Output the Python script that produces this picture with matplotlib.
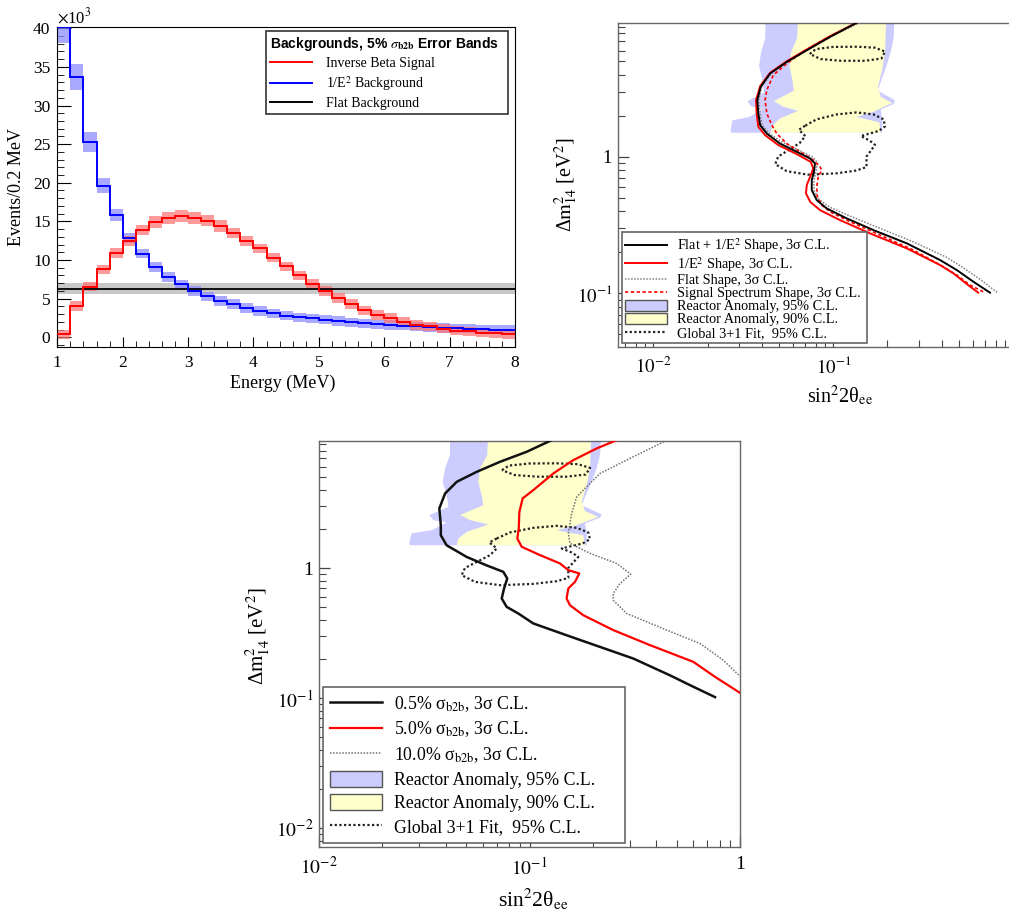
import numpy as np
import matplotlib
matplotlib.use('Agg')
import matplotlib.pyplot as plt
from matplotlib.lines import Line2D
from matplotlib.patches import Patch
from matplotlib.ticker import (MultipleLocator, LogLocator, FixedLocator,
                               FuncFormatter, NullFormatter)

plt.rcParams['font.family'] = ['Liberation Serif', 'DejaVu Serif']
plt.rcParams['mathtext.fontset'] = 'stix'

#-------------------------------------------------------------------
# energy spectra, 0.2 MeV bins from 1 to 8 MeV  (x10^3 events)
e_min, e_max, e_bin = 1.0, 8.0, 0.2
ibd_signal = [0.4, 4.05, 6.55, 8.8, 10.9, 12.5, 13.9, 14.9, 15.4, 15.7,
              15.5, 15.1, 14.4, 13.5, 12.5, 11.5, 10.3, 9.2, 8.0, 6.9,
              6.0, 5.1, 4.3, 3.5, 2.9, 2.5, 2.0, 1.6, 1.4, 1.1,
              0.85, 0.75, 0.6, 0.5, 0.4]
inv_e2_bkg = [40.1, 33.7, 25.3, 19.6, 15.8, 12.9, 10.8, 9.1, 7.8, 6.85,
              6.0, 5.3, 4.7, 4.3, 3.8, 3.4, 3.1, 2.8, 2.6, 2.45,
              2.3, 2.1, 1.95, 1.8, 1.7, 1.6, 1.5, 1.4, 1.3, 1.2,
              1.15, 1.1, 1.05, 1.0, 0.95]
flat_bkg = 6.3
flat_err = 0.75
b2b_frac = 0.05
band_min = 0.6

#-------------------------------------------------------------------
# reactor anomaly allowed regions (sin^2 2theta, dm^2)
ra95_x = [0.0419, 0.0419, 0.0397, 0.0387, 0.0404, 0.0412, 0.0334, 0.0349,
          0.0404, 0.0343, 0.0275, 0.0269, 0.0270,
          0.187, 0.187, 0.1835, 0.2163, 0.2203, 0.177, 0.1835, 0.1973,
          0.2085, 0.2163, 0.2203]
ra95_y = [12.0, 7.40, 5.84, 4.61, 3.64, 2.96, 2.56, 2.34,
          2.25, 1.96, 1.85, 1.59, 1.50,
          1.50, 1.90, 2.21, 2.44, 2.59, 3.05, 3.54, 4.61,
          5.84, 7.40, 12.0]
ra90_x = [0.0637, 0.0630, 0.0582, 0.0571, 0.0593, 0.0603, 0.0468, 0.0522,
          0.0637, 0.0503, 0.0459, 0.0451,
          0.1835, 0.180, 0.1346, 0.1675, 0.2123, 0.1835, 0.177, 0.187,
          0.1938, 0.1973]
ra90_y = [12.0, 7.40, 5.84, 4.61, 3.64, 3.05, 2.56, 2.34,
          2.17, 1.90, 1.69, 1.50,
          1.50, 1.79, 1.96, 2.14, 2.48, 2.75, 3.24, 4.35,
          5.84, 12.0]

# global 3+1 fit, 95% C.L. islands
glob_hi_x = [0.074, 0.080, 0.100, 0.135, 0.170, 0.194, 0.185, 0.150,
             0.110, 0.085, 0.074]
glob_hi_y = [5.67, 6.15, 6.38, 6.40, 6.30, 5.90, 5.25, 5.05,
             5.05, 5.20, 5.67]
glob_lo_x = [0.0699, 0.0808, 0.1042, 0.1346, 0.1676, 0.1902, 0.1938, 0.179,
             0.1422, 0.1586, 0.1705, 0.1614, 0.1529, 0.1529, 0.1346, 0.1042,
             0.0724, 0.0551, 0.0476, 0.0494, 0.0571, 0.0649, 0.0699, 0.0644,
             0.0699]
glob_lo_y = [1.692, 1.882, 2.042, 2.115, 2.042, 1.882, 1.671, 1.549,
             1.418, 1.32, 1.222, 1.106, 1.005, 0.842, 0.794, 0.757,
             0.740, 0.785, 0.884, 1.005, 1.132, 1.259, 1.418, 1.577,
             1.692]

#-------------------------------------------------------------------
# sensitivity by background shape (3 sigma)
flat_e2_x = [0.1349, 0.0959, 0.0712, 0.0551, 0.0445, 0.0395, 0.0378, 0.0383,
             0.0392, 0.0427, 0.0506, 0.0626, 0.0743, 0.0791, 0.0781, 0.0759,
             0.0759, 0.0809, 0.0919, 0.1187, 0.1667, 0.2557, 0.3916, 0.4849,
             0.5995, 0.7424]
flat_e2_y = [9.6, 7.55, 6.03, 4.95, 4.07, 3.25, 2.60, 2.08,
             1.71, 1.48, 1.25, 1.088, 0.973, 0.895, 0.777, 0.675,
             0.571, 0.482, 0.419, 0.354, 0.291, 0.2326, 0.1755, 0.1483,
             0.1218, 0.1012]
e2_x = [0.1349, 0.0959, 0.0712, 0.0551, 0.0445, 0.0392, 0.0372, 0.0375,
        0.0383, 0.0418, 0.0495, 0.0626, 0.0749, 0.0774, 0.0743, 0.0712,
        0.0705, 0.0743, 0.0844, 0.1089, 0.160, 0.2557, 0.3916, 0.4642,
        0.5509, 0.639]
e2_y = [9.6, 7.64, 6.11, 5.01, 4.12, 3.29, 2.60, 2.08,
        1.66, 1.44, 1.218, 1.047, 0.919, 0.822, 0.714, 0.621,
        0.540, 0.469, 0.407, 0.344, 0.275, 0.2137, 0.1613, 0.1403,
        0.1172, 0.1012]
flat_x = [0.1407, 0.0980, 0.0726, 0.0562, 0.0455, 0.0400, 0.0385, 0.0392,
          0.0402, 0.0441, 0.0528, 0.0653, 0.0774, 0.0815, 0.0801, 0.0781,
          0.0781, 0.0833, 0.0959, 0.1265, 0.1817, 0.2782, 0.4266, 0.5168,
          0.6531, 0.8254]
flat_y = [9.6, 7.64, 6.11, 5.01, 4.12, 3.29, 2.60, 2.08,
          1.71, 1.48, 1.266, 1.106, 0.99, 0.904, 0.777, 0.675,
          0.571, 0.488, 0.4265, 0.364, 0.2995, 0.2388, 0.1836, 0.1568,
          0.1268, 0.1002]
sig_x = [0.1349, 0.0959, 0.0712, 0.0551, 0.0464, 0.0427, 0.0418, 0.0427,
         0.0455, 0.0485, 0.0551, 0.0653, 0.0774, 0.0844, 0.0862, 0.0825,
         0.0809, 0.0815, 0.0862, 0.0959, 0.1238, 0.1817, 0.2782, 0.4084,
         0.4849, 0.5745, 0.6963]
sig_y = [9.6, 7.64, 6.11, 4.82, 3.96, 3.08, 2.60, 2.08,
         1.71, 1.48, 1.25, 1.088, 0.946, 0.845, 0.799, 0.714,
         0.603, 0.510, 0.443, 0.396, 0.3346, 0.2675, 0.2077, 0.1568,
         0.1364, 0.1151, 0.1012]

# sensitivity by bin-to-bin uncertainty (3 sigma)
b2b05_x = [0.1275, 0.0970, 0.0724, 0.0562, 0.0451, 0.0397, 0.0373, 0.0379,
           0.0379, 0.0404, 0.0503, 0.0626, 0.0751, 0.0784, 0.0757, 0.0738,
           0.0779, 0.0885, 0.1042, 0.150, 0.2163, 0.311, 0.465, 0.579,
           0.761]
b2b05_y = [9.65, 7.85, 6.57, 5.51, 4.61, 3.75, 2.88, 2.14,
           1.79, 1.50, 1.22, 1.05, 0.937, 0.833, 0.698, 0.585,
           0.504, 0.448, 0.376, 0.305, 0.248, 0.202, 0.150, 0.126,
           0.102]
b2b50_x = [0.2597, 0.2086, 0.1614, 0.1298, 0.1042, 0.0928, 0.0895, 0.0889,
           0.0875, 0.0918, 0.1122, 0.1396, 0.1529, 0.1724, 0.1645, 0.1529,
           0.150, 0.1557, 0.180, 0.250, 0.3736, 0.600, 0.761, 1.0]
b2b50_y = [9.65, 8.33, 6.77, 5.35, 3.98, 3.44, 2.71, 2.02,
           1.69, 1.46, 1.26, 1.087, 0.965, 0.911, 0.785, 0.698,
           0.585, 0.519, 0.435, 0.334, 0.256, 0.1905, 0.146, 0.110]
b2b100_x = [0.4485, 0.300, 0.2163, 0.1676, 0.1586, 0.1529, 0.1557, 0.1938,
            0.2597, 0.3026, 0.2692, 0.250, 0.250, 0.2896, 0.4485, 0.6457,
            0.833, 1.0]
b2b100_y = [9.6, 6.98, 5.35, 3.54, 2.64, 1.85, 1.55, 1.30,
            1.087, 0.899, 0.763, 0.639, 0.567, 0.448, 0.334, 0.2634,
            0.196, 0.1476]

#-------------------------------------------------------------------
blue_fill = '#ccccff'
yellow_fill = '#ffffcc'
W, H = 1009, 913

def pixAxes(fig, left, right, top, bottom):
    return fig.add_axes([left / W, 1 - bottom / H,
                         (right - left) / W, (bottom - top) / H])

def logLabel(v, pos):
    e = int(round(np.log10(v)))
    if e == 0:
        return '1'
    return r'$10^{%d}$' % e

glob_style = dict(color='#222222', lw=1.6, linestyle=(0, (1, 1.1)))

def drawRegions(ax):
    ax.fill(ra95_x, ra95_y, color=blue_fill, lw=0, zorder=1)
    ax.fill(ra90_x, ra90_y, color=yellow_fill, lw=0, zorder=1.5)
    ax.plot(glob_hi_x, glob_hi_y, zorder=3, **glob_style)
    ax.plot(glob_lo_x, glob_lo_y, zorder=3, **glob_style)

def styleLog(ax, xlim, ylim, xmaj, ymaj, fs):
    ax.set_xscale('log')
    ax.set_yscale('log')
    ax.set_xlim(*xlim)
    ax.set_ylim(*ylim)
    ax.xaxis.set_major_locator(FixedLocator(xmaj))
    ax.yaxis.set_major_locator(FixedLocator(ymaj))
    ax.xaxis.set_minor_locator(LogLocator(base=10, subs=np.arange(2, 10)))
    ax.yaxis.set_minor_locator(LogLocator(base=10, subs=np.arange(2, 10)))
    ax.xaxis.set_major_formatter(FuncFormatter(logLabel))
    ax.yaxis.set_major_formatter(FuncFormatter(logLabel))
    ax.xaxis.set_minor_formatter(NullFormatter())
    ax.yaxis.set_minor_formatter(NullFormatter())
    ax.tick_params(which='both', direction='in', top=False, right=False,
                   color='#444444', labelsize=fs)
    ax.tick_params(which='major', length=8, width=0.9)
    ax.tick_params(which='minor', length=5, width=0.8)
    ax.tick_params(axis='x', which='major', pad=7)
    ax.tick_params(axis='y', which='major', pad=4)
    for s in ax.spines.values():
        s.set_color('#666666')
        s.set_linewidth(1.0)

fig = plt.figure(figsize=(W / 100, H / 100), dpi=100)

#-------------------------------------------------------------------
# panel 1 : spectra with error bands
ax1 = pixAxes(fig, 57.3, 515, 26.7, 346.7)
edges = np.linspace(e_min, e_max, len(ibd_signal) + 1)
centers = 0.5 * (edges[1:] + edges[:-1])
sig = np.array(ibd_signal)
bkg = np.array(inv_e2_bkg)
sigErr = np.maximum(b2b_frac * sig, band_min)
bkgErr = np.maximum(b2b_frac * bkg, band_min)

ax1.axhspan(flat_bkg - flat_err, flat_bkg + flat_err, color='#c8c8c8', lw=0, zorder=1)
ax1.bar(centers, 2 * bkgErr, bottom=bkg - bkgErr, width=e_bin,
        color='#8c8cff', alpha=0.75, lw=0, zorder=2)
ax1.bar(centers, 2 * sigErr, bottom=sig - sigErr, width=e_bin,
        color='#ff7070', alpha=0.7, lw=0, zorder=2.5)
ax1.axhline(flat_bkg, color='black', lw=1.3, zorder=3)
ax1.stairs(bkg, edges, baseline=None, color='#0000ff', lw=1.4, zorder=4)
ax1.stairs(sig, edges, baseline=None, color='#ff0000', lw=1.4, zorder=5)

ax1.set_xlim(e_min, e_max)
ax1.set_ylim(-1.22, 40.2)
ax1.xaxis.set_major_locator(MultipleLocator(1))
ax1.xaxis.set_minor_locator(MultipleLocator(0.2))
ax1.yaxis.set_major_locator(MultipleLocator(5))
ax1.yaxis.set_minor_locator(MultipleLocator(1))
ax1.tick_params(which='both', direction='in', top=False, right=False, labelsize=12.5)
ax1.tick_params(axis='y', which='major', length=10, pad=5)
ax1.tick_params(axis='y', which='minor', length=5)
ax1.tick_params(axis='x', which='major', length=7, pad=6)
ax1.tick_params(axis='x', which='minor', length=4)
ax1.set_xlabel('Energy (MeV)', fontsize=13)
ax1.xaxis.set_label_coords(0.493, -0.086)
ax1.set_ylabel('Events/0.2 MeV', fontsize=13)
ax1.yaxis.set_label_coords(-0.071, 0.5)
ax1.text(0.0, 1.0, r'$\times$10$^{3}$', transform=ax1.transAxes,
         fontsize=12, ha='left', va='bottom')

h1 = [Line2D([], [], color='#ff0000', lw=1.4),
      Line2D([], [], color='#0000ff', lw=1.4),
      Line2D([], [], color='black', lw=1.4)]
leg1 = ax1.legend(h1, ['Inverse Beta Signal', r'1/E$^{2}$ Background', 'Flat Background'],
                  loc='upper left', bbox_to_anchor=(0.456, 0.721, 0.529, 0.266),
                  mode='expand', borderaxespad=0, fontsize=10, handlelength=3.0,
                  handletextpad=1.0, labelspacing=0.3, borderpad=0.3,
                  fancybox=False, framealpha=1, edgecolor='#333333', alignment='left',
                  title=r'Backgrounds, 5% $\sigma_{\mathbf{b2b}}$ Error Bands',
                  title_fontproperties={'family': 'Liberation Sans',
                                        'weight': 'bold', 'size': 10})
leg1.get_frame().set_linewidth(1.2)

#-------------------------------------------------------------------
# panel 2 : background shapes
ax2 = pixAxes(fig, 617.7, 1013.3, 23.3, 346.7)
drawRegions(ax2)
ax2.plot(flat_x, flat_y, color='#808080', lw=1.1, linestyle=(0, (1, 1)), zorder=4)
ax2.plot(sig_x, sig_y, color='#ff0000', lw=1.2, linestyle=(0, (2, 1.5)), zorder=4)
ax2.plot(e2_x, e2_y, color='#ff0000', lw=1.4, zorder=5)
ax2.plot(flat_e2_x, flat_e2_y, color='black', lw=1.4, zorder=6)
styleLog(ax2, (0.00634, 1.0), (0.0407, 9.5), [0.01, 0.1], [0.1, 1.0], 13.5)
ax2.set_xlabel(r'sin$^{2}$2θ$_{\mathrm{ee}}$', fontsize=14.5)
ax2.xaxis.set_label_coords(0.562, -0.112)
ax2.set_ylabel(r'Δ$\mathrm{m}^{2}_{14}$ [eV$^{2}$]', fontsize=14.5)
ax2.yaxis.set_label_coords(-0.095, 0.5)

h2 = [Line2D([], [], color='black', lw=1.4),
      Line2D([], [], color='#ff0000', lw=1.4),
      Line2D([], [], color='#808080', lw=1.1, linestyle=(0, (1, 1))),
      Line2D([], [], color='#ff0000', lw=1.2, linestyle=(0, (2, 1.5))),
      Patch(facecolor=blue_fill, edgecolor='#555555', lw=1),
      Patch(facecolor=yellow_fill, edgecolor='#555555', lw=1),
      Line2D([], [], **glob_style)]
l2 = [r'Flat + 1/E$^{2}$ Shape, 3σ C.L.', r'1/E$^{2}$ Shape, 3σ C.L.',
      'Flat Shape, 3σ C.L.', 'Signal Spectrum Shape, 3σ C.L.',
      'Reactor Anomaly, 95% C.L.', 'Reactor Anomaly, 90% C.L.',
      'Global 3+1 Fit,  95% C.L.']
leg2 = ax2.legend(h2, l2, loc='lower left', bbox_to_anchor=(0.010, 0.0105, 0.619, 0.3345),
                  mode='expand', borderaxespad=0, fontsize=10.3, handlelength=2.9,
                  handleheight=0.75, handletextpad=0.7, labelspacing=0.0,
                  borderpad=0.25, fancybox=False, framealpha=1, edgecolor='#666666')
leg2.get_frame().set_linewidth(1.2)
leg2.set_zorder(10)

#-------------------------------------------------------------------
# panel 3 : bin-to-bin uncertainty
ax3 = pixAxes(fig, 319, 740, 441, 846.7)
drawRegions(ax3)
ax3.plot(b2b100_x, b2b100_y, color='#707070', lw=1.1, linestyle=(0, (1, 1)), zorder=4)
ax3.plot(b2b50_x, b2b50_y, color='#ff0000', lw=1.6, zorder=5)
ax3.plot(b2b05_x, b2b05_y, color='#111111', lw=1.8, zorder=6)
styleLog(ax3, (0.01, 1.0), (0.00722, 9.5), [0.01, 0.1, 1.0], [0.01, 0.1, 1.0], 14)
ax3.set_xlabel(r'sin$^{2}$2θ$_{\mathrm{ee}}$', fontsize=15.5)
ax3.xaxis.set_label_coords(0.508, -0.098)
ax3.set_ylabel(r'Δ$\mathrm{m}^{2}_{14}$ [eV$^{2}$]', fontsize=15)
ax3.yaxis.set_label_coords(-0.112, 0.52)

h3 = [Line2D([], [], color='#111111', lw=1.8),
      Line2D([], [], color='#ff0000', lw=1.6),
      Line2D([], [], color='#707070', lw=1.1, linestyle=(0, (1, 1))),
      Patch(facecolor=blue_fill, edgecolor='#555555', lw=1),
      Patch(facecolor=yellow_fill, edgecolor='#555555', lw=1),
      Line2D([], [], **glob_style)]
l3 = [r'0.5% σ$_{\mathrm{b2b}}$, 3σ C.L.', r'5.0% σ$_{\mathrm{b2b}}$, 3σ C.L.',
      r'10.0% σ$_{\mathrm{b2b}}$, 3σ C.L.', 'Reactor Anomaly, 95% C.L.',
      'Reactor Anomaly, 90% C.L.', 'Global 3+1 Fit,  95% C.L.']
leg3 = ax3.legend(h3, l3, loc='lower left', bbox_to_anchor=(0.0102, 0.0084, 0.717, 0.37),
                  mode='expand', borderaxespad=0, fontsize=12.8, handlelength=2.9,
                  handleheight=1.0, handletextpad=0.7, labelspacing=0.32,
                  borderpad=0.4, fancybox=False, framealpha=1, edgecolor='#666666')
leg3.get_frame().set_linewidth(1.2)
leg3.set_zorder(10)

fig.savefig('out.png', dpi=100)
